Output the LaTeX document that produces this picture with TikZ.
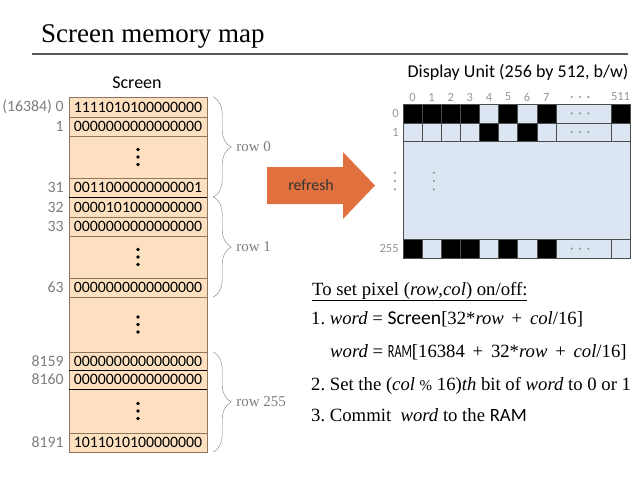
\documentclass[tikz,border=0pt]{standalone}
\usepackage{fontspec}
\setmainfont{Liberation Serif}
\newfontfamily\calibri{Carlito}
\usepackage{xcolor}
\usepackage{tikz}
\usetikzlibrary{decorations.pathreplacing}
\frenchspacing

\definecolor{peach}{RGB}{252,224,192}
\definecolor{cellline}{RGB}{140,118,96}
\definecolor{pxblue}{RGB}{220,230,243}
\definecolor{refreshcol}{RGB}{224,112,62}
\definecolor{addrgray}{RGB}{125,125,125}
\definecolor{numgray}{RGB}{150,150,150}

\newcommand{\plus}{ \,+\, }

\tikzset{
  memcell/.style={draw=cellline, fill=peach, minimum width=138pt, inner sep=0pt, font=\calibri\fontsize{15.8}{18}\selectfont},
  addr/.style={anchor=east, text=addrgray, inner sep=0pt, font=\calibri\fontsize{15.8}{18}\selectfont},
  rowbrace/.style={draw=addrgray, decorate, decoration={brace, amplitude=18pt}},
  bracelabel/.style={right, text=addrgray, inner sep=1pt, font=\fontsize{15}{17}\selectfont},
  pixel/.style={draw=black!70, minimum width=19.1pt, minimum height=18.7pt, inner sep=0pt},
  bit0/.style={fill=pxblue},
  bit1/.style={fill=black},
  pxnum/.style={text=numgray, inner sep=0pt, font=\calibri\fontsize{12.5}{14}\selectfont},
  howto/.style={anchor=base west, inner sep=0pt, font=\fontsize{18.7}{21}\selectfont}
}

\begin{document}
\begin{tikzpicture}[x=1pt, y=-1pt]
\useasboundingbox (0,0) rectangle (640,485);

\node[anchor=base west, inner sep=0pt, font=\fontsize{27}{30}\selectfont] (title) at (41,42) {Screen memory map};
\draw[black!65, line width=1.2pt] (32,54) -- (628,54);

\node[font=\calibri\fontsize{18}{20}\selectfont] (screen) at (137,83) {Screen};
\foreach \n/\t/\b/\a/\w in {0/97/117/{(16384) 0}/1111010100000000, 1/117/136/1/0000000000000000, 31/178/197/31/0011000000000001, 32/197/217/32/0000101000000000, 33/217/236/33/0000000000000000, 63/278/297/63/0000000000000000, 8159/352/370/8159/0000000000000000, 8160/370/389/8160/0000000000000000, 8191/433/452/8191/1011010100000000}
  {\node[memcell, minimum height={\b-\t}] (m\n) at (138,{(\t+\b)/2}) {\w};
   \node[addr] (a\n) at ([xshift=-5pt]m\n.west) {\a};}
\foreach \n/\t/\b in {d1/136/178, d2/236/278, d3/297/352, d4/389/433}
  {\node[memcell, minimum height={\b-\t}] (m\n) at (138,{(\t+\b)/2}) {};
   \foreach \k in {-1,0,1}
     \fill ([yshift=\k*7.5pt]m\n.center) circle (1.8pt);}
\draw[black, semithick] (m31.south west) -- (m31.south east) (m8159.south west) -- (m8159.south east) (m8160.south west) -- (m8160.south east);

\draw[rowbrace] ([xshift=6pt]m0.north east) -- ([xshift=6pt]m31.south east) node[bracelabel, midway, xshift=22pt] (r0) {row 0};
\draw[rowbrace] ([xshift=6pt]m32.north east) -- ([xshift=6pt]m63.south east) node[bracelabel, midway, xshift=22pt] (r1) {row 1};
\draw[rowbrace] ([xshift=6pt]m8159.north east) -- ([xshift=6pt]m8191.south east) node[bracelabel, midway, xshift=22pt] (r255) {row 255};

\fill[refreshcol] (267,167) -- (343,167) -- (343,152) -- (375,185.5) -- (343,219) -- (343,204) -- (267,204) -- cycle;
\node[text=black!80, font=\calibri\fontsize{15.8}{18}\selectfont] (refresh) at (311,185.5) {refresh};

\node[font=\calibri\fontsize{18}{20}\selectfont] (unit) at (518,72) {Display Unit (256 by 512, b/w)};
\foreach \c in {0,...,7}
  \node[pxnum] (c\c) at ({403+19.1*(\c+0.5)},97) {\c};
\coordinate (cdots) at (580,97);
\node[pxnum] (c511) at (620.5,97) {511};

\node[pixel, bit0, minimum width=227.1pt, minimum height=97.9pt] (pmid) at (516.55,190.35) {};
\foreach \r/\y/\bits/\last in {0/113.35/{1,1,1,1,0,1,0,1}/1, 1/132.05/{0,0,0,0,1,0,1,0}/0, 255/248.65/{1,0,1,1,0,1,0,1}/0}
  {\foreach \v [count=\c from 0] in \bits
     \node[pixel, bit\v] (p\r-\c) at ({403+19.1*(\c+0.5)},\y) {};
   \node[pixel, bit0, minimum width=55.2pt] (p\r-dots) at (583.4,\y) {};
   \node[pixel, bit\last] (p\r-511) at (620.55,\y) {};
   \node[pxnum, anchor=east] (n\r) at ([xshift=-4pt]p\r-0.west) {\r};
   \foreach \k in {-1,0,1}
     \fill[numgray] ([xshift={\k*8.3pt-3.4pt}]p\r-dots.center) circle (1.2pt);}
\foreach \k in {-1,0,1}
  {\fill[numgray] ([xshift=\k*8.3pt]cdots) circle (1.2pt);
   \fill[numgray] ([yshift=\k*8.3pt]pmid.west) ++(-8,-9.3) circle (1.2pt);
   \fill[numgray] ([yshift=\k*8.3pt]pmid.west) ++(31,-9.3) circle (1.2pt);}

\node[howto] (step0) at (312,295) {\underline{To set pixel (\textit{row},\textit{col}) on/off:}};
\node[howto] (step1) at (311,324.5) {1. \textit{word} = {\calibri\fontsize{19.6}{21}\selectfont Screen}[32*\textit{row}\plus\textit{col}/16]};
\node[howto] (step1b) at (330,357.5) {\textit{word} = {\calibri\scalebox{0.65}[1]{RAM}}[16384\plus 32*\textit{row}\plus\textit{col}/16]};
\node[howto] (step2) at (311,390) {2. Set the (\textit{col} {\fontsize{15}{17}\selectfont\%} 16)\textit{th} bit of \textit{word} to 0 or 1};
\node[howto] (step3) at (311,421) {3. Commit \ \textit{word} to the {\calibri RAM}};

\end{tikzpicture}
\end{document}
